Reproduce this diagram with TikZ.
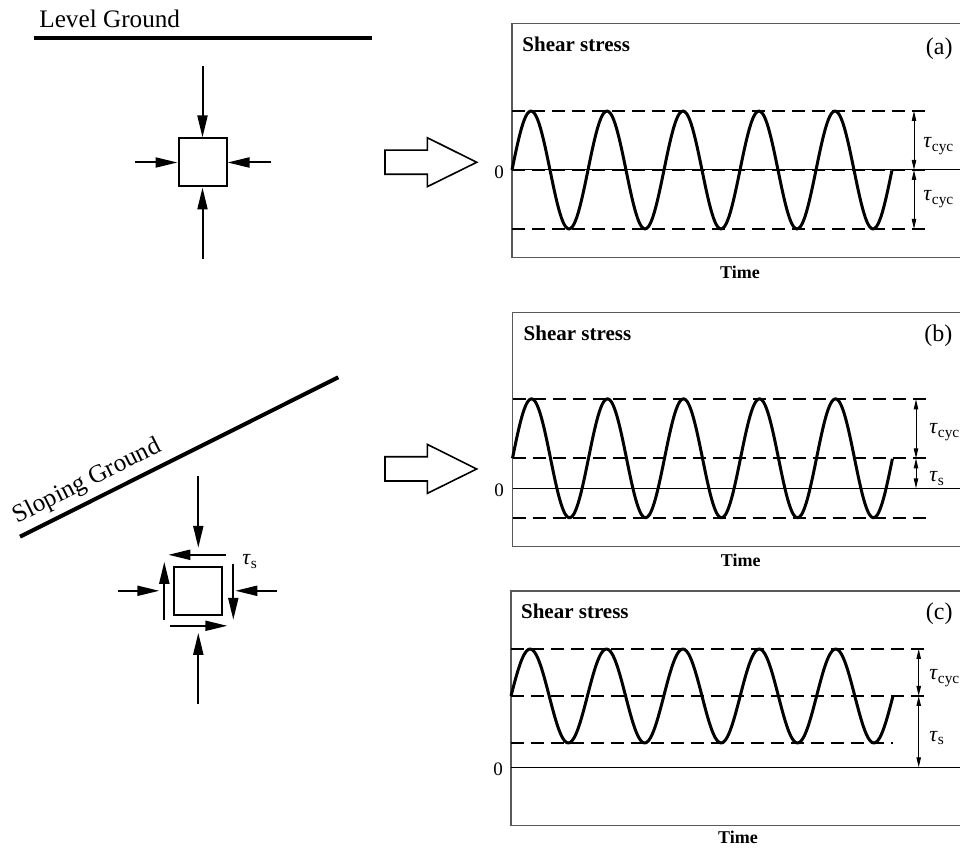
\documentclass[tikz,border=0pt]{standalone}
\usepackage{fontspec}
\setmainfont{Liberation Serif}
\usetikzlibrary{arrows.meta, calc}

\begin{document}
\begin{tikzpicture}[
    x=0.5pt, y=-0.5pt,
    every node/.style={font=\fontsize{10}{12}\selectfont, inner sep=0pt},
    ground/.style={line width=2pt},
    elem/.style={draw, line width=1pt, minimum size=24pt, inner sep=0pt},
    force/.style={line width=1pt, -{Triangle[length=11pt, width=5pt]}},
    hollow/.style={draw, line width=0.8pt, line join=miter},
    frame/.style={draw=black!65, line width=0.7pt},
    zero/.style={line width=0.5pt},
    level/.style={line width=1.1pt, dash pattern=on 6.5pt off 3.5pt},
    wave/.style={line width=1.5pt, line join=round},
    dim/.style={line width=0.5pt, {Triangle[length=5pt, width=2.2pt]}-{Triangle[length=5pt, width=2.2pt]}},
    title/.style={font=\fontsize{10.5}{12}\selectfont\bfseries, anchor=base west},
    tag/.style={font=\fontsize{12}{14}\selectfont, anchor=base east},
    axlbl/.style={font=\fontsize{9}{11}\selectfont\bfseries, anchor=base},
    num/.style={font=\fontsize{9.5}{11}\selectfont},
    lbl/.style={font=\fontsize{11}{13}\selectfont, anchor=base west}
]
\useasboundingbox (0,0) rectangle (960,849);

%% Level ground element
\node[font=\fontsize{12.6}{15}\selectfont, anchor=base west] (lvl) at (39,28) {Level Ground};
\draw[ground] (34,38.3) -- (372,38.3);
\node[elem] (sqA) at (202.5,162.5) {};
\draw[force] ([shift={(0,-71.5)}]sqA.north) -- (sqA.north);
\draw[force] ([shift={(0,71.5)}]sqA.south) -- (sqA.south);
\draw[force] ([shift={(-43,0)}]sqA.west) -- (sqA.west);
\draw[force] ([shift={(43,0)}]sqA.east) -- (sqA.east);

%% Sloping ground element
\draw[ground] (20,536.7) -- (338.3,377.3);
\node[font=\fontsize{12.6}{15}\selectfont, rotate=26.6] (slope) at (87.5,481.7) {Sloping Ground};
\node[elem] (sqB) at (198.3,590.8) {};
\draw[force] ([shift={(0,-90)}]sqB.north) -- ([shift={(0,-18)}]sqB.north);
\draw[force] ([shift={(0,88)}]sqB.south) -- ([shift={(0,17)}]sqB.south);
\draw[force] ([shift={(-55,0)}]sqB.west) -- ([shift={(-14,0)}]sqB.west);
\draw[force] ([shift={(54,0)}]sqB.east) -- ([shift={(12,0)}]sqB.east);
%% shear on the faces
\draw[force] ([shift={(28,-11)}]sqB.north) -- ([shift={(-30,-11)}]sqB.north);
\draw[force] ([shift={(-28,10)}]sqB.south) -- ([shift={(29,10)}]sqB.south);
\draw[force] ([shift={(-9,29)}]sqB.west) -- ([shift={(-9,-29)}]sqB.west);
\draw[force] ([shift={(10,-27)}]sqB.east) -- ([shift={(10,29)}]sqB.east);
\node[lbl] (tsB) at (242,565) {\textit{τ}\textsubscript{s}};

%% Hollow arrows
\foreach \ty in {162.3,469}
  \draw[hollow, shift={(0,\ty)}] (385,-12.2) -- (427.3,-12.2) -- (427.3,-24.6) -- (476.7,0)
      -- (427.3,24.4) -- (427.3,12) -- (385,12) -- cycle;

%% Panel (a)
\draw[frame] (960,23.3) -| (512,257.7) -- (960,257.7);
\draw[zero] (512,170) -- (960,170);
\draw[level] (512,111) -- (930,111);
\draw[level] (512,170) -- (930,170);
\draw[level] (512,229) -- (930,229);
\draw[wave] plot[domain=0:5, samples=201, smooth] ({512+76*\x}, {170-59*sin(360*\x)});
\draw[dim] (914,111) -- (914,170);
\draw[dim] (914,170) -- (914,229);
\node[title] (shA) at (522,51.7) {Shear stress};
\node[tag] (tagA) at (953,55) {(a)};
\node[axlbl] (timeA) at (740,278.3) {Time};
\node[num] (zA) at (499,172) {0};
\node[lbl] (tcA1) at (923,148) {\textit{τ}\textsubscript{cyc}};
\node[lbl] (tcA2) at (923,201) {\textit{τ}\textsubscript{cyc}};

%% Panel (b)
\draw[frame] (960,312.7) -| (512.5,546.7) -- (960,546.7);
\draw[zero] (512.5,488.3) -- (960,488.3);
\draw[level] (512.5,399.3) -- (930,399.3);
\draw[level] (512.5,458.3) -- (930,458.3);
\draw[level] (512.5,518.3) -- (930,518.3);
\draw[wave] plot[domain=0:5, samples=201, smooth] ({512.5+76*\x}, {458.3-59.5*sin(360*\x)});
\draw[dim] (916,399.3) -- (916,458.3);
\draw[dim] (916,458.3) -- (916,488.3);
\node[title] (shB) at (523.3,340.7) {Shear stress};
\node[tag] (tagB) at (952.7,341.7) {(b)};
\node[axlbl] (timeB) at (740.7,566.7) {Time};
\node[num] (zB) at (499,490) {0};
\node[lbl] (tcB) at (929,434) {\textit{τ}\textsubscript{cyc}};
\node[lbl] (tsBp) at (929,482) {\textit{τ}\textsubscript{s}};

%% Panel (c)
\draw[frame] (960,591) -| (511,825.7) -- (960,825.7);
\draw[zero] (511,767.3) -- (960,767.3);
\draw[level] (511,649) -- (928,649);
\draw[level] (511,696) -- (928,696);
\draw[level] (511,743.3) -- (893,743.3);
\draw[wave] plot[domain=0:5, samples=201, smooth] ({511+76.4*\x}, {696-47*sin(360*\x)});
\draw[dim] (918.7,649) -- (918.7,696);
\draw[dim] (918.7,696) -- (918.7,767.3);
\node[title] (shC) at (520.7,619) {Shear stress};
\node[tag] (tagC) at (953,619.3) {(c)};
\node[axlbl] (timeC) at (738,843.3) {Time};
\node[num] (zC) at (498,769) {0};
\node[lbl] (tcC) at (929,680) {\textit{τ}\textsubscript{cyc}};
\node[lbl] (tsC) at (929,741.7) {\textit{τ}\textsubscript{s}};
\end{tikzpicture}
\end{document}
